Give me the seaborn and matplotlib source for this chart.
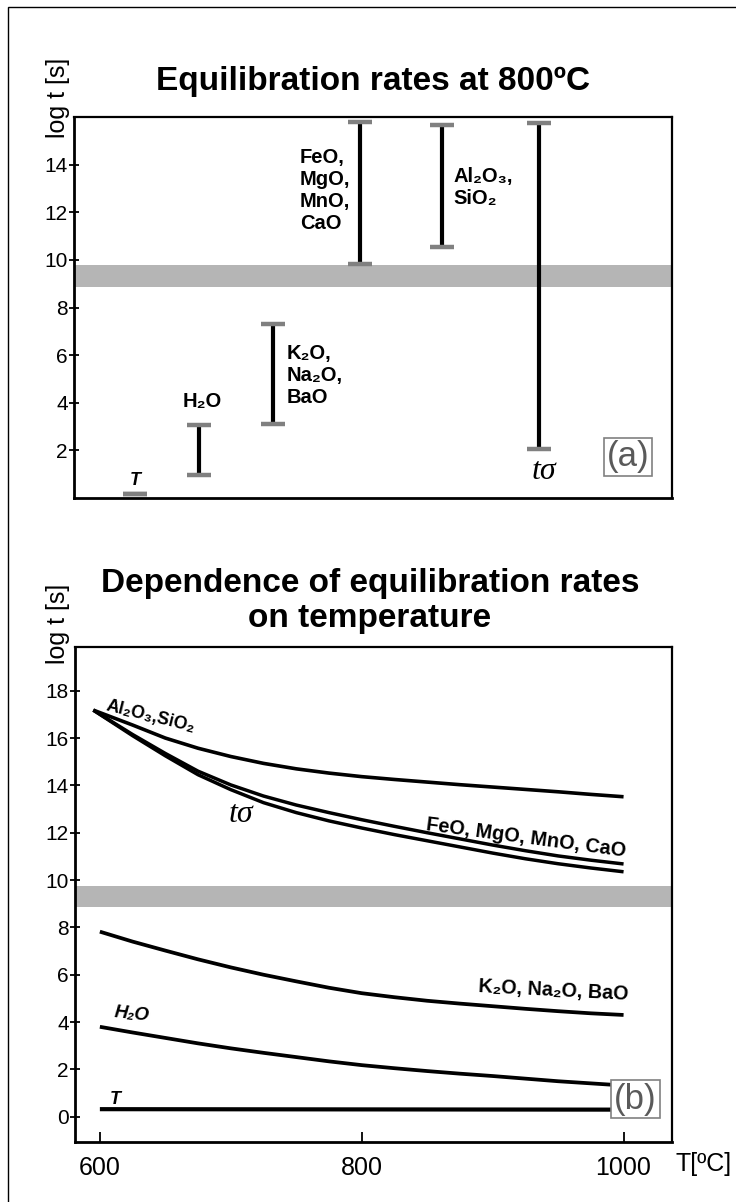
import matplotlib
matplotlib.use('Agg')
import matplotlib.pyplot as plt
from matplotlib.patches import Rectangle
import seaborn as sns
import pandas as pd

# ---------------- data: panel (a) equilibration times at 800 C ----------------
a_labels = ['T', 'H₂O', 'K₂O,\nNa₂O,\nBaO', 'FeO,\nMgO,\nMnO,\nCaO', 'Al₂O₃,\nSiO₂', 'tσ']
a_pos = [1.02, 2.09, 3.33, 4.78, 6.15, 7.78]
a_low = [0.15, 0.98, 3.10, 9.84, 10.54, 2.07]
a_high = [0.15, 3.07, 7.30, 15.80, 15.65, 15.75]
band = [8.85, 9.77]

# ---------------- data: panel (b) dependence on temperature ----------------
temp_upper = [595, 625, 650, 675, 700, 725, 750, 775, 800, 825, 850, 875, 900, 925, 950, 975, 1000]
al2o3_sio2 = [17.18, 16.55, 16.00, 15.57, 15.22, 14.93, 14.70, 14.52, 14.37, 14.25, 14.14, 14.03,
              13.93, 13.83, 13.73, 13.62, 13.52]
feo_mgo = [17.18, 16.15, 15.35, 14.60, 14.02, 13.55, 13.17, 12.85, 12.55, 12.27, 12.00, 11.74,
           11.48, 11.24, 11.02, 10.84, 10.68]
t_sigma = [17.18, 16.10, 15.25, 14.45, 13.82, 13.27, 12.85, 12.50, 12.20, 11.92, 11.66, 11.40,
           11.14, 10.90, 10.69, 10.51, 10.35]
temp_lower = [600, 625, 650, 675, 700, 725, 750, 775, 800, 825, 850, 875, 900, 925, 950, 975, 1000]
k2o_na2o = [7.82, 7.40, 7.02, 6.65, 6.31, 6.00, 5.72, 5.45, 5.22, 5.05, 4.90, 4.78, 4.67, 4.56,
            4.46, 4.37, 4.30]
h2o = [3.80, 3.56, 3.33, 3.10, 2.89, 2.70, 2.52, 2.34, 2.18, 2.05, 1.93, 1.82, 1.72, 1.61, 1.50,
       1.41, 1.32]
temp_T = [600, 800, 1000]
t_T = [0.32, 0.31, 0.30]
b_yticks = [0, 2, 4, 6, 8, 10, 12, 14, 16, 18]
b_xticks = [600, 800, 1000]
a_yticks = [2, 4, 6, 8, 10, 12, 14]

# ---------------- style ----------------
sns.set_theme(style='white')
plt.rcParams['font.family'] = ['Liberation Sans', 'DejaVu Sans']
plt.rcParams['text.color'] = 'black'
plt.rcParams['axes.labelcolor'] = 'black'
plt.rcParams['axes.edgecolor'] = 'black'
plt.rcParams['xtick.color'] = 'black'
plt.rcParams['ytick.color'] = 'black'
plt.rcParams['xtick.labelcolor'] = 'black'
plt.rcParams['ytick.labelcolor'] = 'black'
SANS = ['Liberation Sans', 'DejaVu Sans']
SERIF = ['Liberation Serif', 'DejaVu Serif']
GREY_BAND = '#b5b5b5'
GREY_CAP = '#808080'

fig = plt.figure(figsize=(7.36, 12.02), dpi=100)
W, H = 736.0, 1202.0

# outer frame (only top/left edges visible)
fig.patches.append(Rectangle((8 / W, -0.2), 1.5, 1.2 - 7 / H, transform=fig.transFigure,
                             fill=False, edgecolor='black', lw=1.0, clip_on=False))

def style_axes(ax):
    for s in ['left', 'bottom']:
        ax.spines[s].set_linewidth(2.0)
    for s in ['top', 'right']:
        ax.spines[s].set_linewidth(1.6)
    for s in ax.spines.values():
        s.set_color('black')
        s.set_visible(True)
    ax.set_facecolor('white')

# ---------------- panel (a) ----------------
axa = fig.add_axes([74 / W, 1 - 498 / H, 598 / W, 381 / H])
style_axes(axa)
axa.set_xlim(0, 10)
axa.set_ylim(0, 16)
axa.axhspan(band[0], band[1], color=GREY_BAND, lw=0, zorder=1)
axa.vlines(a_pos, a_low, a_high, colors='black', lw=3.0, zorder=3)
cap_half = 0.2
axa.hlines(a_low, [p - cap_half for p in a_pos], [p + cap_half for p in a_pos],
           colors=GREY_CAP, lw=3.2, zorder=4)
axa.hlines(a_high, [p - cap_half for p in a_pos], [p + cap_half for p in a_pos],
           colors=GREY_CAP, lw=3.2, zorder=4)
axa.set_xticks([])
axa.set_yticks(a_yticks)
axa.tick_params(axis='y', direction='inout', length=7, width=1.3, pad=1, labelsize=15, left=True,
                labelcolor='black')

lab_kw = dict(fontsize=14.5, fontweight='bold', family=SANS, linespacing=1.2, zorder=5,
              color='black')
axa.text(a_pos[0], 0.74, a_labels[0], ha='center', va='center',
         fontsize=13, fontweight='bold', style='italic', family=SANS, color='black')
axa.text(2.14, 4.04, a_labels[1], ha='center', va='center', **lab_kw)
axa.text(3.56, 5.15, a_labels[2], ha='left', va='center', **lab_kw)
axa.text(3.78, 12.9, a_labels[3], ha='left', va='center', **lab_kw)
axa.text(6.34, 13.06, a_labels[4], ha='left', va='center', **lab_kw)
axa.text(7.86, 1.12, a_labels[5], ha='center', va='center', fontsize=23, style='italic',
         family=SERIF, color='black')
axa.text(0.927, 0.108, '(a)', transform=axa.transAxes, ha='center', va='center', fontsize=25,
         color='#5a5a5a', family=SANS,
         bbox=dict(boxstyle='square,pad=0.08', fc='white', ec=GREY_CAP, lw=1.2))

# ---------------- panel (b) ----------------
axb = fig.add_axes([75 / W, 1 - 1142.3 / H, 597 / W, 495.6 / H])
style_axes(axb)
axb.set_xlim(581, 1037)
axb.set_ylim(-1.08, 19.86)
axb.axhspan(band[0], band[1], color=GREY_BAND, lw=0, zorder=1)

curves = [
    (temp_upper, al2o3_sio2, 2.6),
    (temp_upper, feo_mgo, 2.5),
    (temp_upper, t_sigma, 2.5),
    (temp_lower, k2o_na2o, 2.7),
    (temp_lower, h2o, 2.7),
    (temp_T, t_T, 3.0),
]
for xs, ys, lw in curves:
    df = pd.DataFrame({'T': xs, 'logt': ys})
    sns.lineplot(data=df, x='T', y='logt', ax=axb, color='black', lw=lw, sort=False,
                 estimator=None, zorder=3, solid_capstyle='butt', solid_joinstyle='round')

axb.set_xlabel('')
axb.set_ylabel('')
axb.set_xticks(b_xticks)
axb.set_yticks(b_yticks)
axb.tick_params(axis='y', direction='inout', length=7, width=1.3, pad=1, labelsize=15, left=True,
                labelcolor='black')
axb.tick_params(axis='x', direction='in', length=7, width=1.3, pad=10, labelsize=18, bottom=True,
                labelcolor='black')

blab = dict(fontweight='bold', family=SANS, zorder=5, ha='center', va='center',
            rotation_mode='anchor', color='black')
axb.text(638.9, 16.88, 'Al₂O₃,SiO₂', fontsize=12.8, rotation=-14, **blab)
axb.text(925.7, 11.77, 'FeO, MgO, MnO, CaO', fontsize=14.3, rotation=-7.6, **blab)
axb.text(946.7, 5.35, 'K₂O, Na₂O, BaO', fontsize=14.2, rotation=-3, **blab)
axb.text(624.4, 4.34, 'H₂O', fontsize=13.5, rotation=-6, style='italic', **blab)
axb.text(611.4, 0.72, 'T', fontsize=13, style='italic', **blab)
axb.text(708, 12.79, 'tσ', fontsize=23, style='italic', family=SERIF, ha='center', va='center',
         color='black')
axb.text(0.939, 0.087, '(b)', transform=axb.transAxes, ha='center', va='center', fontsize=25,
         color='#5a5a5a', family=SANS, zorder=10,
         bbox=dict(boxstyle='square,pad=0.08', fc='white', ec=GREY_CAP, lw=1.2))

# ---------------- titles and axis labels ----------------
fig.text(372.5 / W, 1 - 90 / H, 'Equilibration rates at 800ºC', ha='center', va='baseline',
         fontsize=24, fontweight='bold', family=SANS, color='black')
fig.text(370 / W, 1 - 592 / H, 'Dependence of equilibration rates', ha='center', va='baseline',
         fontsize=24, fontweight='bold', family=SANS, color='black')
fig.text(370 / W, 1 - 627 / H, 'on temperature', ha='center', va='baseline',
         fontsize=24, fontweight='bold', family=SANS, color='black')
fig.text(58 / W, 1 - 97.5 / H, 'log t [s]', rotation=90, ha='center', va='center', fontsize=18,
         family=SANS, color='black')
fig.text(58.5 / W, 1 - 624 / H, 'log t [s]', rotation=90, ha='center', va='center', fontsize=18,
         family=SANS, color='black')
fig.text(704 / W, 1 - 1164 / H, 'T[ºC]', ha='center', va='center', fontsize=18, family=SANS,
         color='black')

fig.savefig('out.png', dpi=100, facecolor='white')
